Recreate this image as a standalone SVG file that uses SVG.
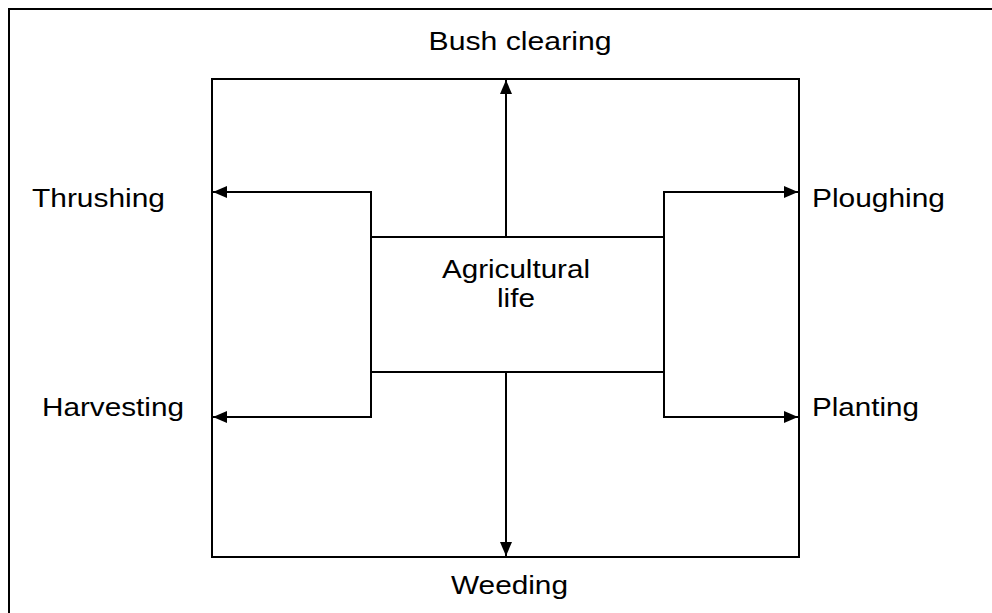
<svg xmlns="http://www.w3.org/2000/svg" width="992" height="613" viewBox="0 0 992 613">
<style>
  .ln { fill: none; stroke: #000; stroke-width: 2; }
  .lbl { font-family: "Liberation Sans", Arial, sans-serif; font-size: 25px; fill: #000; }
</style>
<defs>
  <marker id="ah" markerUnits="userSpaceOnUse" markerWidth="14" markerHeight="12" refX="14" refY="6" orient="auto">
    <path d="M0,0 L14,6 L0,12 z" fill="#000"/>
  </marker>
</defs>
<rect x="0" y="0" width="992" height="613" fill="#fff"/>
<g id="frame">
  <path class="ln" d="M9,613 V9 H992"/>
</g>
<g id="cycle-box">
  <rect class="ln" x="212" y="79" width="587" height="478"/>
</g>
<g id="agricultural-life">
  <rect class="ln" x="371" y="237" width="293" height="135"/>
  <text class="lbl" x="516" y="278" text-anchor="middle" textLength="148" lengthAdjust="spacingAndGlyphs">Agricultural</text>
  <text class="lbl" x="516" y="307" text-anchor="middle" textLength="38" lengthAdjust="spacingAndGlyphs">life</text>
</g>
<g id="bush-clearing">
  <text class="lbl" x="520" y="50" text-anchor="middle" textLength="183" lengthAdjust="spacingAndGlyphs">Bush clearing</text>
</g>
<g id="thrushing">
  <text class="lbl" x="32" y="207" textLength="133" lengthAdjust="spacingAndGlyphs">Thrushing</text>
</g>
<g id="harvesting">
  <text class="lbl" x="42" y="416" textLength="142" lengthAdjust="spacingAndGlyphs">Harvesting</text>
</g>
<g id="ploughing">
  <text class="lbl" x="812" y="207" textLength="133" lengthAdjust="spacingAndGlyphs">Ploughing</text>
</g>
<g id="planting">
  <text class="lbl" x="812" y="416" textLength="107" lengthAdjust="spacingAndGlyphs">Planting</text>
</g>
<g id="weeding">
  <text class="lbl" x="509.5" y="594" text-anchor="middle" textLength="117" lengthAdjust="spacingAndGlyphs">Weeding</text>
</g>
<g id="connectors">
  <path class="ln" d="M506,237 V80" marker-end="url(#ah)"/>
  <path class="ln" d="M506,372 V556" marker-end="url(#ah)"/>
  <path class="ln" d="M371,237 V192 H213" marker-end="url(#ah)"/>
  <path class="ln" d="M371,372 V417 H213" marker-end="url(#ah)"/>
  <path class="ln" d="M664,237 V192 H798" marker-end="url(#ah)"/>
  <path class="ln" d="M664,372 V417 H798" marker-end="url(#ah)"/>
</g>
</svg>
